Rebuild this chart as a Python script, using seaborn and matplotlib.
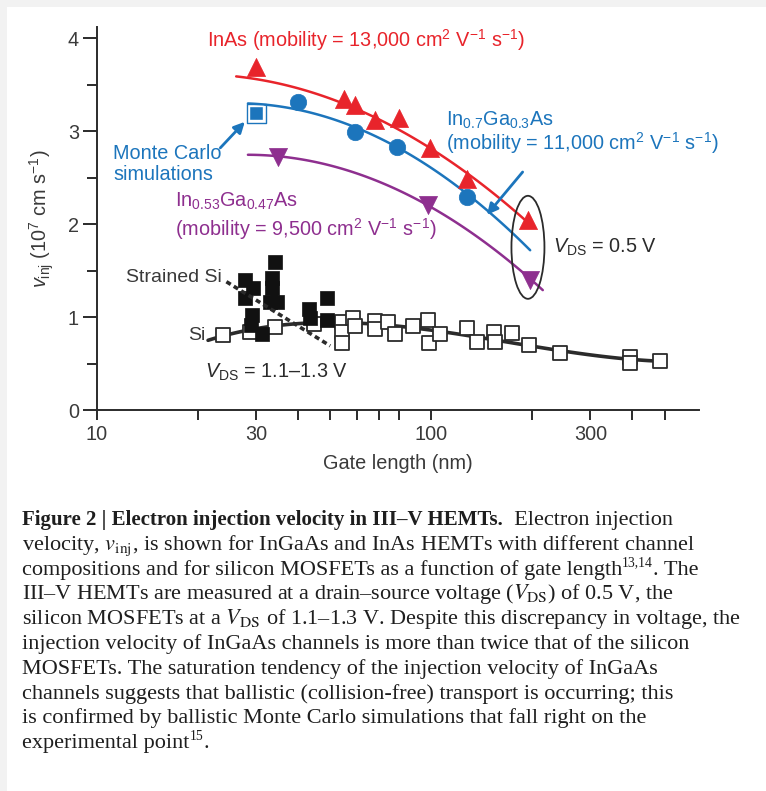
import numpy as np
import pandas as pd
import matplotlib
matplotlib.use("Agg")
import matplotlib.pyplot as plt
import seaborn as sns
from matplotlib.patches import Ellipse, Rectangle
from matplotlib.ticker import FixedLocator, FixedFormatter, NullFormatter

# ---------------- data ----------------
inas_x = [30, 55, 59, 68, 80, 99, 128, 195]
inas_y = [3.69, 3.35, 3.28, 3.12, 3.14, 2.82, 2.49, 2.04]
inas_trend_x = [26.1, 38.7, 54.6, 67.9, 79.8, 98, 128, 198]
inas_trend_y = [3.58, 3.48, 3.30, 3.14, 3.06, 2.83, 2.49, 2.02]

ingaas07_x = [40, 59, 79, 128]
ingaas07_y = [3.31, 2.99, 2.83, 2.29]
ingaas07_trend_x = [28.3, 40, 59.2, 78, 128, 154, 198]
ingaas07_trend_y = [3.30, 3.24, 3.01, 2.85, 2.33, 2.11, 1.70]

montecarlo_x = [30]
montecarlo_y = [3.19]

ingaas053_x = [34.8, 98, 198]
ingaas053_y = [2.72, 2.20, 1.40]
ingaas053_trend_x = [28.3, 34.8, 61.2, 97, 154, 216]
ingaas053_trend_y = [2.76, 2.72, 2.51, 2.22, 1.76, 1.27]

si_x = [23.9, 28.7, 34.1, 44.5, 54.2, 54.2, 54.2, 58.5, 59.2, 67.9, 67.9, 74.5,
        78.0, 88.5, 98, 98.6, 106, 128, 137, 154, 155, 175, 197, 243, 395, 393, 483]
si_y = [0.81, 0.84, 0.89, 0.93, 0.95, 0.84, 0.72, 0.99, 0.90, 0.96, 0.87, 0.95,
        0.82, 0.90, 0.97, 0.72, 0.82, 0.88, 0.73, 0.84, 0.73, 0.83, 0.70, 0.61, 0.57, 0.51, 0.53]
si_trend_x = [21.5, 28.7, 34, 44.5, 54, 70, 98, 140, 197, 243, 395, 483]
si_trend_y = [0.78, 0.83, 0.88, 0.93, 0.96, 0.94, 0.88, 0.77, 0.69, 0.62, 0.55, 0.53]

strained_x = [27.8, 29.4, 27.8, 29.2, 29.0, 31.1, 34.1, 33.3, 33.3, 33.0, 34.5, 43.0, 43.5, 48.7, 48.7]
strained_y = [1.40, 1.31, 1.20, 1.02, 0.91, 0.82, 1.59, 1.42, 1.31, 1.16, 1.16, 1.09, 0.99, 1.20, 0.97]
strained_trend_x = [24.4, 49.9]
strained_trend_y = [1.38, 0.69]

x_major = [10, 30, 100, 300]
x_major_labels = ["10", "30", "100", "300"]
x_minor = [20, 40, 50, 60, 70, 80, 200, 400, 500]
y_major = [0, 1, 2, 3, 4]
y_minor = [0.5, 1.5, 2.5, 3.5]

RED = "#e8242b"
BLUE = "#1c75bc"
PURPLE = "#8e2f8f"
DARK = "#2b2b2b"
TXT = "#3a3a3a"

# ---------------- style ----------------
sns.set_theme(style="ticks")
plt.rcParams["font.family"] = ["Liberation Sans", "DejaVu Sans"]
plt.rcParams["mathtext.fontset"] = "custom"
plt.rcParams["mathtext.rm"] = "Liberation Sans"
plt.rcParams["mathtext.it"] = "Liberation Sans:italic"
plt.rcParams["mathtext.bf"] = "Liberation Sans:bold"

W, H = 766, 791
fig = plt.figure(figsize=(W / 100, H / 100), dpi=100, facecolor="#f2f2f2")
fig.patches.append(Rectangle((7 / W, 0), 1, 1 - 7 / H, transform=fig.transFigure,
                             facecolor="white", edgecolor="none", zorder=-10))

ax = fig.add_axes([97 / W, 1 - 410 / H, (699 - 97) / W, (410 - 27) / H])
ax.set_facecolor("white")
ax.set_xscale("log")
ax.set_xlim(10, 634)
ax.set_ylim(0, 4.12)


def smooth_trend(xs, ys, deg):
    lx = np.log10(xs)
    coef = np.polyfit(lx, ys, deg)
    g = np.linspace(lx.min(), lx.max(), 120)
    return pd.DataFrame({"x": 10 ** g, "y": np.polyval(coef, g)})


tr = smooth_trend(np.array(inas_trend_x), np.array(inas_trend_y), 2)
sns.lineplot(data=tr, x="x", y="y", ax=ax, color=RED, lw=1.8, estimator=None, zorder=2)
tr = smooth_trend(np.array(ingaas07_trend_x), np.array(ingaas07_trend_y), 2)
sns.lineplot(data=tr, x="x", y="y", ax=ax, color=BLUE, lw=1.8, estimator=None, zorder=2)
tr = smooth_trend(np.array(ingaas053_trend_x), np.array(ingaas053_trend_y), 2)
sns.lineplot(data=tr, x="x", y="y", ax=ax, color=PURPLE, lw=1.8, estimator=None, zorder=2)
tr = smooth_trend(np.array(si_trend_x), np.array(si_trend_y), 3)
sns.lineplot(data=tr, x="x", y="y", ax=ax, color=DARK, lw=2.6, estimator=None, zorder=2)
sns.lineplot(x=strained_trend_x, y=strained_trend_y, ax=ax, color=DARK, lw=2.6,
             linestyle=(0, (1.4, 1.0)), estimator=None, zorder=4)

# markers
sns.scatterplot(x=si_x, y=si_y, ax=ax, marker="s", s=105, color="white",
                edgecolor=DARK, linewidth=1.3, zorder=3)
sns.scatterplot(x=strained_x, y=strained_y, ax=ax, marker="s", s=105, color="#111111",
                edgecolor="#111111", linewidth=0.5, zorder=3)
sns.scatterplot(x=inas_x, y=inas_y, ax=ax, marker="^", s=170, color=RED,
                edgecolor=RED, linewidth=0.5, zorder=5)
sns.scatterplot(x=ingaas07_x, y=ingaas07_y, ax=ax, marker="o", s=140, color=BLUE,
                edgecolor=BLUE, linewidth=0.5, zorder=5)
sns.scatterplot(x=ingaas053_x, y=ingaas053_y, ax=ax, marker="v", s=170, color=PURPLE,
                edgecolor=PURPLE, linewidth=0.5, zorder=5)
sns.scatterplot(x=montecarlo_x, y=montecarlo_y, ax=ax, marker="s", s=190, color="none",
                edgecolor=BLUE, linewidth=1.0, zorder=5)
sns.scatterplot(x=montecarlo_x, y=montecarlo_y, ax=ax, marker="s", s=115, color=BLUE,
                edgecolor="white", linewidth=1.0, zorder=6)

# axes styling
for s in ["top", "right"]:
    ax.spines[s].set_visible(False)
for s in ["left", "bottom"]:
    ax.spines[s].set_color(DARK)
    ax.spines[s].set_linewidth(1.4)
ax.xaxis.set_major_locator(FixedLocator(x_major))
ax.xaxis.set_major_formatter(FixedFormatter(x_major_labels))
ax.xaxis.set_minor_locator(FixedLocator(x_minor))
ax.xaxis.set_minor_formatter(NullFormatter())
ax.yaxis.set_major_locator(FixedLocator(y_major))
ax.yaxis.set_minor_locator(FixedLocator(y_minor))
ax.tick_params(axis="x", which="both", direction="out", length=7, width=1.4,
               color=DARK, labelsize=14.3, labelcolor=TXT, pad=4)
ax.tick_params(axis="y", which="major", direction="out", length=10, width=1.4,
               color=DARK, labelsize=14.3, labelcolor=TXT, pad=3)
ax.tick_params(axis="y", which="minor", direction="out", length=7, width=1.4, color=DARK)
ax.set_xlabel("Gate length (nm)", fontsize=14.3, color=TXT, labelpad=7)
ax.set_ylabel(r"$v_{\rm inj}$ (10$^7$ cm s$^{-1}$)", fontsize=14.3, color=TXT)
ax.yaxis.set_label_coords(-0.068, 0.5)

# annotations
fs = 14.3
ax.text(21.4, 3.98, r"InAs (mobility = 13,000 cm$^2$ V$^{-1}$ s$^{-1}$)", color=RED,
        fontsize=fs, ha="left", va="center")
ax.text(111, 3.12, r"In$_{0.7}$Ga$_{0.3}$As", color=BLUE, fontsize=fs, ha="left", va="center")
ax.text(111, 2.87, r"(mobility = 11,000 cm$^2$ V$^{-1}$ s$^{-1}$)", color=BLUE, fontsize=fs,
        ha="left", va="center")
ax.text(11.2, 2.65, "Monte Carlo\nsimulations", color=BLUE, fontsize=fs, ha="left",
        va="center", linespacing=1.12)
ax.text(17.1, 2.24, r"In$_{0.53}$Ga$_{0.47}$As", color=PURPLE, fontsize=fs, ha="left", va="center")
ax.text(17.1, 1.95, r"(mobility = 9,500 cm$^2$ V$^{-1}$ s$^{-1}$)", color=PURPLE, fontsize=fs,
        ha="left", va="center")
ax.text(232, 1.75, r"$V_{\rm DS}$ = 0.5 V", color=DARK, fontsize=fs, ha="left", va="center")
ax.text(23.7, 1.43, "Strained Si", color=TXT, fontsize=14, ha="right", va="center")
ax.text(21.1, 0.80, "Si", color=TXT, fontsize=14, ha="right", va="center")
ax.text(21.1, 0.41, r"$V_{\rm DS}$ = 1.1–1.3 V", color=DARK, fontsize=fs, ha="left", va="center")

ax.annotate("", xy=(27.7, 3.10), xytext=(23.4, 2.82),
            arrowprops=dict(arrowstyle="-|>", color=BLUE, lw=2.0, mutation_scale=16,
                            shrinkA=0, shrinkB=0), zorder=7)
ax.annotate("", xy=(147, 2.10), xytext=(188, 2.56),
            arrowprops=dict(arrowstyle="-|>", color=BLUE, lw=2.0, mutation_scale=16,
                            shrinkA=0, shrinkB=0), zorder=7)

# ellipse around the 200 nm points (centre in data units, size in axes fraction)
ell_center = (195, 1.75)
cx, cy = ax.transAxes.inverted().transform(ax.transData.transform(ell_center))
ax.add_patch(Ellipse((cx, cy), 33 / 602, 103 / 383, transform=ax.transAxes,
                     facecolor="none", edgecolor=DARK, lw=1.3, zorder=8))

# ---------------- caption ----------------
serif = ["Liberation Serif", "DejaVu Serif"]
cfs = 16.0
bfs = 15.0
left_px = 22
base0 = 525
step = 24.8
CAPC = "#1e1e1e"
renderer = fig.canvas.get_renderer()


def draw_runs(line_idx, runs):
    """runs: list of (text, fontsize, weight, raise_px)"""
    x_px = left_px
    yb = base0 + line_idx * step
    for text, size, weight, rise in runs:
        t = fig.text(x_px / W, 1 - (yb - rise) / H, text, fontsize=size, family=serif,
                     weight=weight, math_fontfamily="stix", va="baseline", ha="left",
                     color=CAPC)
        bb = t.get_window_extent(renderer)
        x_px = bb.x1


caption = [
    [("Figure 2 | Electron injection velocity in III–V HEMTs.", bfs, "bold", 0),
     ("  Electron injection", cfs, "normal", 0)],
    [(r"velocity, $v_{\rm inj}$, is shown for InGaAs and InAs HEMTs with different channel",
      cfs, "normal", 0)],
    [("compositions and for silicon MOSFETs as a function of gate length", cfs, "normal", 0),
     ("13,14", cfs * 0.62, "normal", 8), (". The", cfs, "normal", 0)],
    [(r"III–V HEMTs are measured at a drain–source voltage ($V_{\rm DS}$) of 0.5 V, the",
      cfs, "normal", 0)],
    [(r"silicon MOSFETs at a $V_{\rm DS}$ of 1.1–1.3 V. Despite this discrepancy in voltage, the",
      cfs, "normal", 0)],
    [("injection velocity of InGaAs channels is more than twice that of the silicon",
      cfs, "normal", 0)],
    [("MOSFETs. The saturation tendency of the injection velocity of InGaAs", cfs, "normal", 0)],
    [("channels suggests that ballistic (collision-free) transport is occurring; this",
      cfs, "normal", 0)],
    [("is confirmed by ballistic Monte Carlo simulations that fall right on the",
      cfs, "normal", 0)],
    [("experimental point", cfs, "normal", 0), ("15", cfs * 0.62, "normal", 8),
     (".", cfs, "normal", 0)],
]
for i, runs in enumerate(caption):
    draw_runs(i, runs)

fig.savefig("out.png", dpi=100, facecolor=fig.get_facecolor())
